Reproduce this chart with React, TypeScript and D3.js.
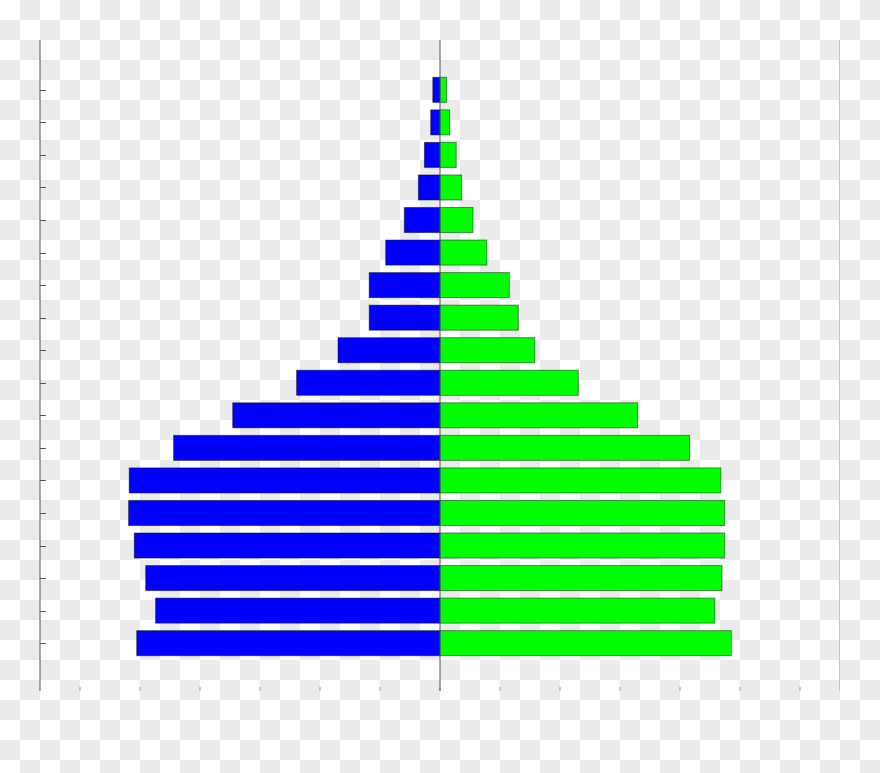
import React from 'react';
import * as d3 from 'd3';

// Age groups, top (oldest) to bottom (youngest)
const ageGroups: string[] = [
  '85+', '80-84', '75-79', '70-74', '65-69', '60-64', '55-59', '50-54', '45-49',
  '40-44', '35-39', '30-34', '25-29', '20-24', '15-19', '10-14', '5-9', '0-4',
];

// Left side (blue) values, same order as ageGroups
const maleValues: number[] = [
  0.12, 0.155, 0.26, 0.36, 0.595, 0.905, 1.18, 1.18, 1.70,
  2.39, 3.455, 4.44, 5.18, 5.19, 5.095, 4.905, 4.74, 5.055,
];

// Right side (green) values, same order as ageGroups
const femaleValues: number[] = [
  0.11, 0.16, 0.27, 0.36, 0.55, 0.78, 1.155, 1.305, 1.58,
  2.305, 3.295, 4.16, 4.68, 4.745, 4.745, 4.70, 4.58, 4.855,
];

const xTickValues: number[] = [-6, -5, -4, -3, -2, -1, 0, 1, 2, 3, 4, 5, 6];

const W = 880;
const H = 773;
const plotLeft = 40;
const plotRight = 840;
const plotTop = 40;
const plotBottom = 691;

export default function App() {
  const x = d3.scaleLinear().domain([-20 / 3, 20 / 3]).range([plotLeft, plotRight]);
  const y = d3
    .scaleBand<string>()
    .domain(ageGroups)
    .range([plotTop + 1, plotBottom + 1])
    .paddingInner(0.23)
    .paddingOuter(1.115);
  const bw = y.bandwidth();

  return (
    <svg
      width={W}
      height={H}
      style={{ position: 'absolute', left: 0, top: 0, display: 'block' }}
    >
      <defs>
        <pattern id="checker" width={40} height={40} patternUnits="userSpaceOnUse">
          <rect x={0} y={0} width={40} height={40} fill="#ffffff" />
          <rect x={20} y={0} width={20} height={20} fill="#ebebeb" />
          <rect x={0} y={20} width={20} height={20} fill="#ebebeb" />
        </pattern>
      </defs>
      <rect x={0} y={0} width={W} height={H} fill="url(#checker)" />

      {/* right frame line */}
      <line x1={plotRight - 0.5} x2={plotRight - 0.5} y1={plotTop} y2={plotBottom} stroke="#c4c4c4" strokeWidth={1} />

      {/* bars */}
      <g>
        {ageGroups.map((g, i) => (
          <rect
            key={'m' + g}
            x={x(-maleValues[i])}
            y={y(g)}
            width={x(0) - x(-maleValues[i])}
            height={bw}
            fill="#0000ff"
            stroke="#000"
            strokeOpacity={0.45}
            strokeWidth={1}
          />
        ))}
        {ageGroups.map((g, i) => (
          <rect
            key={'f' + g}
            x={x(0)}
            y={y(g)}
            width={x(femaleValues[i]) - x(0)}
            height={bw}
            fill="#00ff00"
            stroke="#000"
            strokeOpacity={0.45}
            strokeWidth={1}
          />
        ))}
      </g>

      {/* left axis */}
      <line x1={plotLeft} x2={plotLeft} y1={plotTop} y2={plotBottom} stroke="#555" strokeWidth={1} />
      {ageGroups.map((g) => {
        const cy = Math.round((y(g) as number) + bw / 2) + 0.5;
        return <line key={'yt' + g} x1={plotLeft} x2={plotLeft + 6} y1={cy} y2={cy} stroke="#555" strokeWidth={1} />;
      })}

      {/* bottom ticks */}
      {xTickValues.map((v) => (
        <line
          key={'xt' + v}
          x1={x(v)}
          x2={x(v)}
          y1={plotBottom - 4}
          y2={plotBottom}
          stroke="#999"
          strokeWidth={1}
        />
      ))}

      {/* center line */}
      <line x1={x(0)} x2={x(0)} y1={plotTop} y2={plotBottom} stroke="#555" strokeWidth={1} />
    </svg>
  );
}
